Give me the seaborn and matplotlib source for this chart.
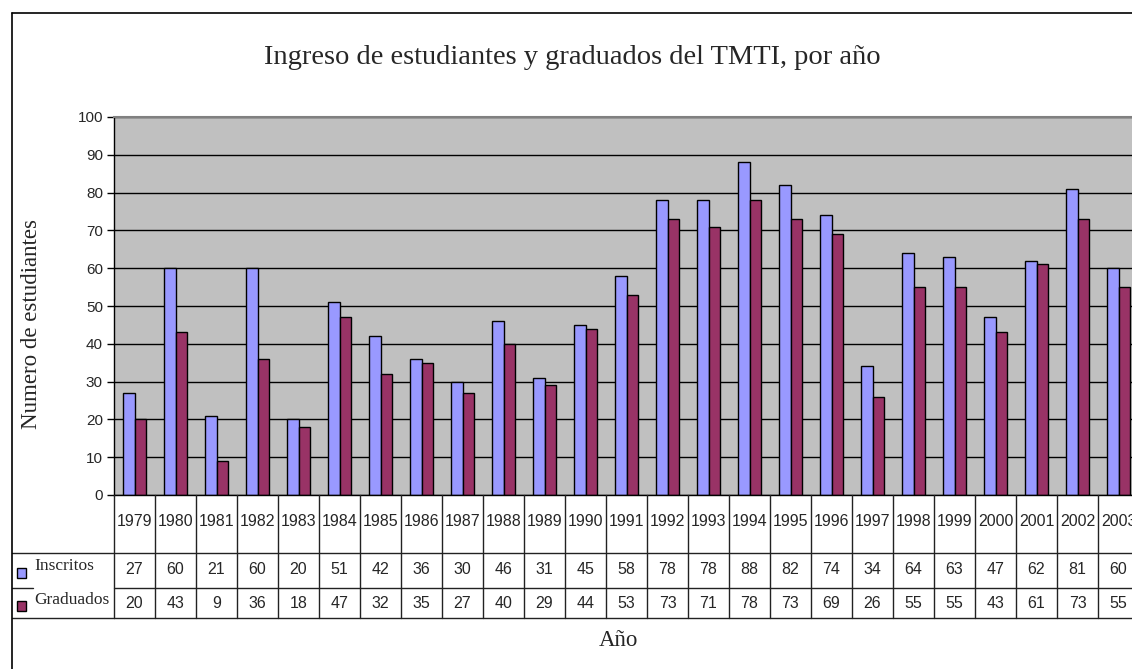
import pandas as pd
import seaborn as sns
import matplotlib.pyplot as plt
from matplotlib.lines import Line2D
from matplotlib.patches import Rectangle

years = ["1979", "1980", "1981", "1982", "1983", "1984", "1985", "1986", "1987",
         "1988", "1989", "1990", "1991", "1992", "1993", "1994", "1995", "1996",
         "1997", "1998", "1999", "2000", "2001", "2002", "2003"]
inscritos = [27, 60, 21, 60, 20, 51, 42, 36, 30, 46, 31, 45, 58, 78, 78, 88, 82, 74,
             34, 64, 63, 47, 62, 81, 60]
graduados = [20, 43, 9, 36, 18, 47, 32, 35, 27, 40, 29, 44, 53, 73, 71, 78, 73, 69,
             26, 55, 55, 43, 61, 73, 55]
series = ["Inscritos", "Graduados"]
colors = ["#9999FF", "#993366"]

df = pd.DataFrame({"Año": years, "Inscritos": inscritos, "Graduados": graduados})
long_df = df.melt(id_vars="Año", var_name="serie", value_name="valor")

sns.set_theme(style="white")
plt.rcParams['font.family'] = ['Liberation Sans', 'DejaVu Sans']
SERIF = ['Liberation Serif', 'DejaVu Serif']

W, H = 1132, 669
fig = plt.figure(figsize=(W / 100, H / 100), dpi=100)


def fx(px):
    return px / W


def fy(py):
    return 1 - py / H


# plot area (right side runs past the image edge, as in the original)
ax = fig.add_axes([fx(114), fy(495), fx(1139) - fx(114), fy(117) - fy(495)])
sns.barplot(data=long_df, x="Año", y="valor", hue="serie", hue_order=series,
            palette=colors, saturation=1, width=0.56, edgecolor="black",
            linewidth=1, legend=False, ax=ax)

ax.set_facecolor("#C0C0C0")
ax.set_xlim(-0.5, len(years) - 0.5)
ax.set_ylim(0, 100)
ax.set_yticks(range(0, 101, 10))
ax.yaxis.grid(True, color="black", linewidth=1)
ax.set_axisbelow(True)
ax.set_xticks([])
ax.set_xlabel("")
ax.set_ylabel("")
ax.tick_params(axis="y", direction="out", length=5, width=1, color="black",
               labelsize=11, pad=3, left=True)
for s in ["left", "bottom"]:
    ax.spines[s].set_color("black")
    ax.spines[s].set_linewidth(1)
ax.spines["top"].set_color("#808080")
ax.spines["top"].set_linewidth(1.5)
ax.spines["right"].set_visible(False)

# data table below the plot
tab = fig.add_axes([fx(114), fy(618), fx(1139) - fx(114), fy(495) - fy(618)])
tab.set_xlim(ax.get_xlim())
tab.set_ylim(618, 495)
tab.axis("off")
line_kw = dict(color="#222222", linewidth=1, clip_on=False)
for i in range(len(years)):
    tab.text(i, 522, years[i], ha="center", va="center", fontsize=11.5)
    tab.text(i, 570, str(inscritos[i]), ha="center", va="center", fontsize=11.5)
    tab.text(i, 604, str(graduados[i]), ha="center", va="center", fontsize=11.5)
    tab.plot([i - 0.5, i - 0.5], [495, 618], **line_kw)
for yy in [553, 588, 618]:
    tab.plot([-0.5, len(years) - 0.5], [yy, yy], **line_kw)

# left header column of the table
for (x0, x1, yy) in [(12, 114, 553), (12, 33, 588), (12, 114, 618)]:
    fig.add_artist(Line2D([fx(x0), fx(x1)], [fy(yy), fy(yy)],
                          transform=fig.transFigure, color="#222222", linewidth=1))
for name, col, ysq, ytxt in [(series[0], colors[0], 578, 566), (series[1], colors[1], 611, 600)]:
    fig.add_artist(Rectangle((fx(17), fy(ysq)), fx(26) - fx(17), fy(568) - fy(578),
                             transform=fig.transFigure, facecolor=col,
                             edgecolor="black", linewidth=1))
    fig.text(fx(34), fy(ytxt), name, ha="left", va="center", fontsize=12.5, family=SERIF)

# outer frame (left and top edges only visible)
fig.add_artist(Line2D([fx(11.5), fx(11.5)], [fy(12.5), 0], transform=fig.transFigure,
                      color="black", linewidth=1.2))
fig.add_artist(Line2D([fx(11.5), 1], [fy(12.5), fy(12.5)], transform=fig.transFigure,
                      color="black", linewidth=1.2))

fig.text(fx(572), fy(57), "Ingreso de estudiantes y graduados del TMTI, por año",
         ha="center", va="center", fontsize=20.5, family=SERIF)
fig.text(fx(32), fy(324), "Numero de estudiantes", rotation=90,
         ha="center", va="center", fontsize=16.5, family=SERIF)
fig.text(fx(618), fy(641), "Año", ha="center", va="center", fontsize=16.5, family=SERIF)

fig.savefig("out.png", dpi=100)
